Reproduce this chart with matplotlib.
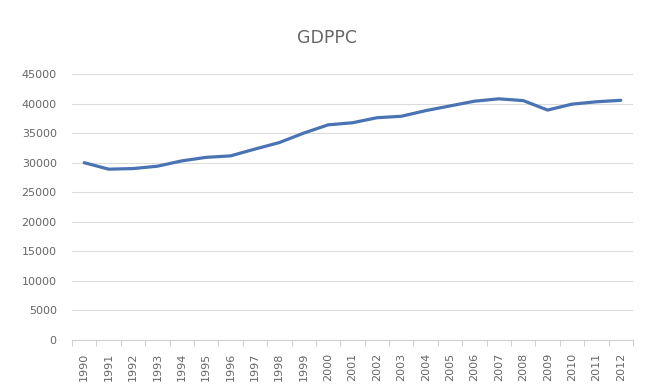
import matplotlib
matplotlib.use("Agg")
import matplotlib.pyplot as plt
import numpy as np

years = [str(y) for y in range(1990, 2013)]
gdppc = [30000, 28900, 29000, 29400, 30300, 30900, 31150, 32300, 33400, 35000,
         36400, 36750, 37600, 37850, 38800, 39600, 40400, 40800, 40500, 38900,
         39900, 40300, 40550]
y_ticks = list(range(0, 45001, 5000))

plt.rcParams['font.family'] = ['DejaVu Sans']

fig = plt.figure(figsize=(6.46, 3.92), dpi=100)
ax = fig.add_axes([72 / 646, 52 / 392, 561 / 646, 266 / 392])

x = np.arange(len(years))
ax.plot(x, gdppc, color='#4a73b3', linewidth=2.3, solid_joinstyle='round',
        solid_capstyle='round', zorder=3)

ax.set_ylim(0, 45000)
ax.set_xlim(-0.5, len(years) - 0.5)
ax.set_yticks(y_ticks)
ax.set_yticklabels([str(v) for v in y_ticks], color='#666666', fontsize=8)
ax.grid(axis='y', color='#dcdcdc', linewidth=0.8, zorder=0)
ax.tick_params(axis='y', length=0, pad=11)

ax.set_xticks(x)
ax.set_xticklabels(years, rotation=90, color='#666666', fontsize=8)
ax.tick_params(axis='x', which='major', length=0, pad=9)
ax.set_xticks(np.arange(-0.5, len(years)), minor=True)
ax.tick_params(axis='x', which='minor', length=4, color='#d0d0d0', width=0.8)

for side in ['top', 'right', 'left']:
    ax.spines[side].set_visible(False)
ax.spines['bottom'].set_color('#d0d0d0')
ax.spines['bottom'].set_linewidth(0.8)

fig.text(327 / 646, 1 - 38 / 392, 'GDPPC', ha='center', va='center',
         fontsize=12.5, color='#666666')

fig.savefig('out.png', dpi=100, facecolor='white')
